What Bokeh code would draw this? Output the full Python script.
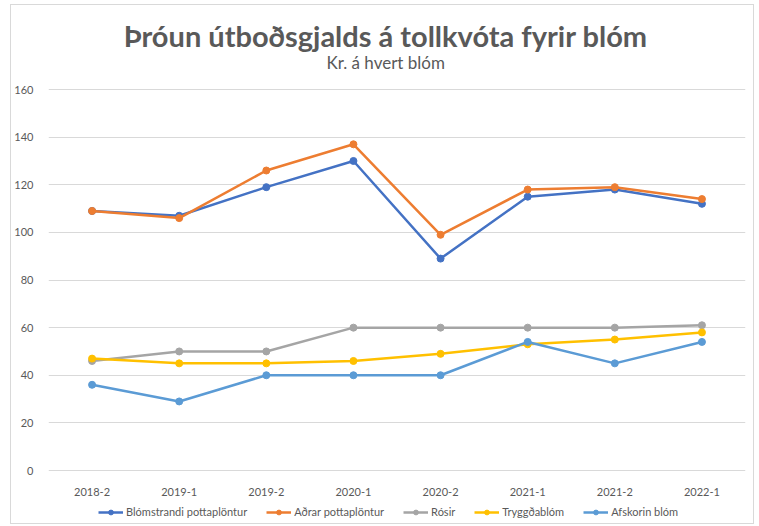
from bokeh.plotting import figure
from bokeh.models import Label, Legend, LegendItem, FixedTicker, Range1d
from bokeh.embed import file_html
from bokeh.resources import INLINE

categories = ["2018-2", "2019-1", "2019-2", "2020-1", "2020-2", "2021-1", "2021-2", "2022-1"]
blomstrandi = [109, 107, 119, 130, 89, 115, 118, 112]
adrar = [109, 106, 126, 137, 99, 118, 119, 114]
rosir = [46, 50, 50, 60, 60, 60, 60, 61]
tryggdablom = [47, 45, 45, 46, 49, 53, 55, 58]
afskorin = [36, 29, 40, 40, 40, 54, 45, 54]
y_ticks = [0, 20, 40, 60, 80, 100, 120, 140, 160]

series = [
    ("Blómstrandi pottaplöntur", blomstrandi, "#4472C4"),
    ("Aðrar pottaplöntur", adrar, "#ED7D31"),
    ("Rósir", rosir, "#A5A5A5"),
    ("Tryggðablóm", tryggdablom, "#FFC000"),
    ("Afskorin blóm", afskorin, "#5B9BD5"),
]

FONT = "Lato"
GRAY = "#595959"

# frame covers nearly the whole canvas; the value axis spans 0..160 inside it
p = figure(x_range=categories, y_range=Range1d(-23.1, 195.3), width=744, height=520,
           output_backend="svg", toolbar_location=None,
           min_border_left=36, min_border_right=10, min_border_top=0, min_border_bottom=0)
p.title = None

p.add_layout(Label(x=3.87, y=182.7, text="Þróun útboðsgjalds á tollkvóta fyrir blóm",
                   text_font=FONT, text_font_size="29px", text_font_style="bold",
                   text_color=GRAY, text_align="center", text_baseline="middle"))
p.add_layout(Label(x=3.87, y=171.4, text="Kr. á hvert blóm",
                   text_font=FONT, text_font_size="17px",
                   text_color=GRAY, text_align="center", text_baseline="middle"))

items = []
for name, vals, col in series:
    r1 = p.line(categories, vals, line_color=col, line_width=2.5)
    r2 = p.scatter(categories, vals, size=7, fill_color=col, line_color=col)
    items.append(LegendItem(label=name, renderers=[r1, r2]))

legend = Legend(items=items, orientation="horizontal", location=(50, 7),
                label_text_font=FONT, label_text_font_size="11px", label_text_color=GRAY,
                border_line_color=None, background_fill_alpha=0, glyph_width=25,
                glyph_height=12, label_height=12, spacing=19, padding=0, margin=0,
                label_standoff=3)
p.add_layout(legend, "center")

p.outline_line_color = None
p.xgrid.grid_line_color = None
p.ygrid.grid_line_color = "#D9D9D9"
p.ygrid.grid_line_width = 1
p.yaxis.ticker = FixedTicker(ticks=y_ticks)
p.xaxis.fixed_location = 0
for ax in (p.xaxis[0], p.yaxis[0]):
    ax.axis_line_color = None
    ax.major_tick_line_color = None
    ax.minor_tick_line_color = None
    ax.major_label_text_font = FONT
    ax.major_label_text_font_size = "11px"
    ax.major_label_text_color = GRAY
p.xaxis.major_label_standoff = 11
p.yaxis.major_label_standoff = 9
p.styles = {"border": "1px solid #D9D9D9", "margin-left": "10px", "margin-top": "4px"}

open("out.html", "w").write(file_html(p, INLINE))
